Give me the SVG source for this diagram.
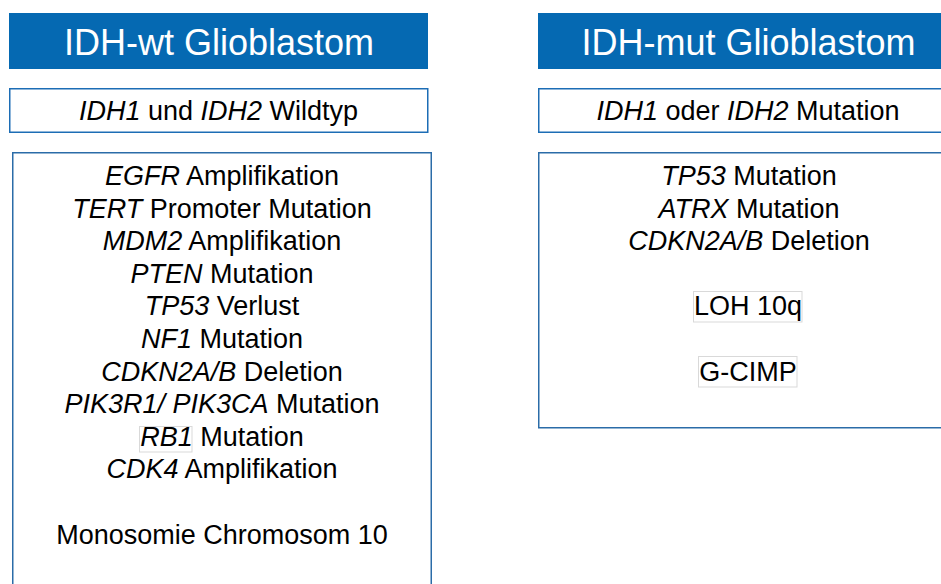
<svg xmlns="http://www.w3.org/2000/svg" width="941" height="584" viewBox="0 0 941 584">
<style>
.hdr{fill:#0569B2}
.sub{fill:#fff;stroke:#1C6DB5;stroke-width:1.5}
.box{fill:#fff;stroke:#2B6CA8;stroke-width:1.5}
.ht{font-family:"Liberation Sans",Arial,sans-serif;font-size:36px;fill:#fff;text-anchor:middle}
.t{font-family:"Liberation Sans",Arial,sans-serif;font-size:27px;fill:#000;text-anchor:middle}
.i{font-style:italic}
.faint{fill:none;stroke:#d9d9d9;stroke-width:1}
</style>
<rect width="941" height="584" fill="#fff"/>
<g id="wt-header">
<rect class="hdr" x="9" y="13" width="419" height="56"/>
<text class="ht" x="219" y="55">IDH-wt Glioblastom</text>
</g>
<g id="wt-sub">
<rect class="sub" x="9.75" y="88.75" width="418" height="43.5"/>
<text class="t" x="218.5" y="120"><tspan class="i">IDH1</tspan> und <tspan class="i">IDH2</tspan> Wildtyp</text>
</g>
<g id="wt-list">
<rect class="box" x="12.75" y="152.75" width="418.5" height="440"/>
<rect class="faint" x="139.5" y="426.5" width="52.5" height="25.5"/>
<text class="t" x="222" y="185"><tspan class="i">EGFR</tspan> Amplifikation</text>
<text class="t" x="222" y="217.6"><tspan class="i">TERT</tspan> Promoter Mutation</text>
<text class="t" x="222" y="250.2"><tspan class="i">MDM2</tspan> Amplifikation</text>
<text class="t" x="222" y="282.8"><tspan class="i">PTEN</tspan> Mutation</text>
<text class="t" x="222" y="315.4"><tspan class="i">TP53</tspan> Verlust</text>
<text class="t" x="222" y="348"><tspan class="i">NF1</tspan> Mutation</text>
<text class="t" x="222" y="380.6"><tspan class="i">CDKN2A/B</tspan> Deletion</text>
<text class="t" x="222" y="413.2"><tspan class="i">PIK3R1/ PIK3CA</tspan> Mutation</text>
<text class="t" x="222" y="445.8"><tspan class="i">RB1</tspan> Mutation</text>
<text class="t" x="222" y="478.4"><tspan class="i">CDK4</tspan> Amplifikation</text>
<text class="t" x="222" y="543.6">Monosomie Chromosom 10</text>
</g>
<g id="mut-header">
<rect class="hdr" x="538" y="13" width="410" height="56"/>
<text class="ht" x="748.5" y="55">IDH-mut Glioblastom</text>
</g>
<g id="mut-sub">
<rect class="sub" x="538.75" y="88.75" width="410" height="43.5"/>
<text class="t" x="748" y="120"><tspan class="i">IDH1</tspan> oder <tspan class="i">IDH2</tspan> Mutation</text>
</g>
<g id="mut-list">
<rect class="box" x="538.75" y="152.75" width="410" height="275"/>
<rect class="faint" x="693.5" y="291.5" width="108.5" height="30.5"/>
<rect class="faint" x="698.5" y="356.5" width="98.5" height="30.5"/>
<text class="t" x="749" y="185"><tspan class="i">TP53</tspan> Mutation</text>
<text class="t" x="749" y="217.6"><tspan class="i">ATRX</tspan> Mutation</text>
<text class="t" x="749" y="250.2"><tspan class="i">CDKN2A/B</tspan> Deletion</text>
<text class="t" x="748" y="315.4">LOH 10q</text>
<text class="t" x="748" y="380.6">G-CIMP</text>
</g>
<g id="connectors"></g>
</svg>
